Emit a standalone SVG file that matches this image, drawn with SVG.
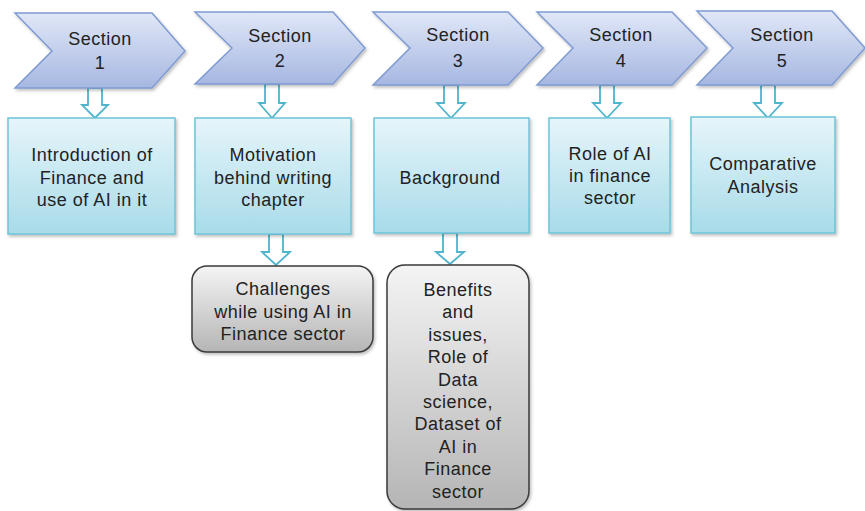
<svg xmlns="http://www.w3.org/2000/svg" width="865" height="511" viewBox="0 0 865 511">
<defs>
<linearGradient id="gChev" x1="0" y1="0" x2="0" y2="1">
<stop offset="0" stop-color="#e0e7f7"/><stop offset="1" stop-color="#a6b7e1"/>
</linearGradient>
<linearGradient id="gBox" x1="0" y1="0" x2="0" y2="1">
<stop offset="0" stop-color="#e6f5fa"/><stop offset="1" stop-color="#a8dbe9"/>
</linearGradient>
<linearGradient id="gGray" x1="0" y1="0" x2="0" y2="1">
<stop offset="0" stop-color="#f4f4f4"/><stop offset="1" stop-color="#b5b5b5"/>
</linearGradient>
<filter id="sh" x="-10%" y="-10%" width="125%" height="125%">
<feDropShadow dx="1.5" dy="2" stdDeviation="1.5" flood-color="#000" flood-opacity="0.25"/>
</filter>
</defs>
<style>
.chev{fill:url(#gChev);stroke:#7f9bd2;stroke-width:1.5;filter:url(#sh)}
.box{fill:url(#gBox);stroke:#6ec4d8;stroke-width:1.5;filter:url(#sh)}
.gray{fill:url(#gGray);stroke:#3a3a3a;stroke-width:1.5;filter:url(#sh)}
.arr{fill:#fff;stroke:#4fb4cc;stroke-width:1.8;stroke-linejoin:miter}
text{font-family:"Liberation Sans",Arial,sans-serif;font-size:18px;letter-spacing:0.5px;fill:#222;text-anchor:middle}
</style>
<g id="connectors">
<path class="arr" d="M88,88 V105 H82 L95,118 L108,105 H102 V88 Z"/>
<path class="arr" d="M265,84 V103 H259 L272,118 L285,103 H279 V84 Z"/>
<path class="arr" d="M444,85 V103 H437 L451,118 L465,103 H458 V85 Z"/>
<path class="arr" d="M600,85 V103 H593 L607,118 L621,103 H614 V85 Z"/>
<path class="arr" d="M761,85 V103 H754 L768,118 L782,103 H775 V85 Z"/>
<path class="arr" d="M269,234 V252 H262 L276,265 L290,252 H283 V234 Z"/>
<path class="arr" d="M443,233 V252 H436 L450,264 L464,252 H457 V233 Z"/>
</g>
<g id="section1">
<path class="chev" d="M15,13 H152 L185,51 L152,88 H15 L52,51 Z"/>
<text x="100" y="45">Section</text><text x="100" y="69">1</text>
</g>
<g id="section2">
<path class="chev" d="M195,12 H333 L365,48 L333,84 H195 L232,48 Z"/>
<text x="280" y="42">Section</text><text x="280" y="67">2</text>
</g>
<g id="section3">
<path class="chev" d="M373,12 H508 L543,48 L508,85 H373 L410,48 Z"/>
<text x="458" y="41">Section</text><text x="458" y="67">3</text>
</g>
<g id="section4">
<path class="chev" d="M537,12 H672 L707,48 L672,85 H537 L573,48 Z"/>
<text x="621" y="41">Section</text><text x="621" y="67">4</text>
</g>
<g id="section5">
<path class="chev" d="M697,11 H832 L865,48 L832,85 H697 L733,48 Z"/>
<text x="782" y="41">Section</text><text x="782" y="67">5</text>
</g>
<g id="box1">
<rect class="box" x="8" y="118" width="167" height="116"/>
<text x="92" y="161">Introduction of</text><text x="92" y="183.5">Finance and</text><text x="92" y="206">use of AI in it</text>
</g>
<g id="box2">
<rect class="box" x="195" y="118" width="156" height="116"/>
<text x="273" y="161">Motivation</text><text x="273" y="183.5">behind writing</text><text x="273" y="206">chapter</text>
</g>
<g id="box3">
<rect class="box" x="374" y="118" width="155" height="115"/>
<text x="450" y="184">Background</text>
</g>
<g id="box4">
<rect class="box" x="549" y="118" width="121" height="115"/>
<text x="610" y="160">Role of AI</text><text x="610" y="182">in finance</text><text x="610" y="204">sector</text>
</g>
<g id="box5">
<rect class="box" x="691" y="117" width="144" height="116"/>
<text x="763" y="170">Comparative</text><text x="763" y="193">Analysis</text>
</g>
<g id="challenges">
<rect class="gray" x="192" y="266" width="181" height="86" rx="15" ry="15"/>
<text x="283" y="295">Challenges</text><text x="283" y="317.5">while using AI in</text><text x="283" y="340">Finance sector</text>
</g>
<g id="benefits">
<rect class="gray" x="387" y="265" width="142" height="244" rx="18" ry="18"/>
<text x="458" y="296">Benefits</text><text x="458" y="318.4">and</text><text x="458" y="340.8">issues,</text><text x="458" y="363.2">Role of</text><text x="458" y="385.6">Data</text><text x="458" y="408">science,</text><text x="458" y="430.4">Dataset of</text><text x="458" y="452.8">AI in</text><text x="458" y="475.2">Finance</text><text x="458" y="497.6">sector</text>
</g>
</svg>
